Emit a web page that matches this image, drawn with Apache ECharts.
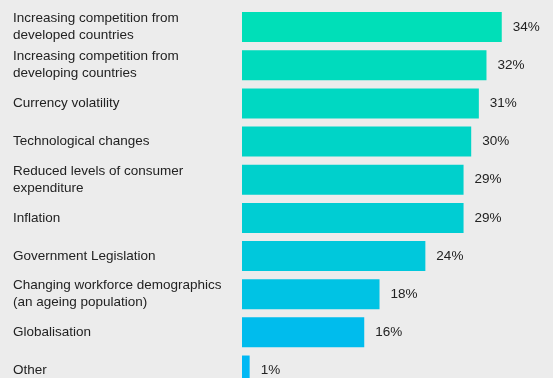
<!DOCTYPE html>
<html>
<head>
<meta charset="utf-8">
<script src="https://cdn.jsdelivr.net/npm/echarts@6/dist/echarts.min.js"></script>
<style>
  html, body { margin: 0; padding: 0; background: #ececec; }
  #chart { width: 553px; height: 378px; }
</style>
</head>
<body>
<div id="chart"></div>
<script>
// Business challenges, share of respondents (%)
const categories = [
  'Increasing competition from\ndeveloped countries',
  'Increasing competition from\ndeveloping countries',
  'Currency volatility',
  'Technological changes',
  'Reduced levels of consumer\nexpenditure',
  'Inflation',
  'Government Legislation',
  'Changing workforce demographics\n(an ageing population)',
  'Globalisation',
  'Other'
];
const values = [34, 32, 31, 30, 29, 29, 24, 18, 16, 1];
// green-to-blue ramp, top bar first
const barColors = [
  '#00dfb8', '#00dbbd', '#00d8c2', '#00d4c7', '#00d0cc',
  '#00cdd3', '#00c8dc', '#00c3e4', '#00bced', '#00b8f4'
];

const chart = echarts.init(document.getElementById('chart'), null, { renderer: 'canvas' });

chart.setOption({
  backgroundColor: '#ececec',
  animation: false,
  // plot area runs past the bottom edge so the last bar is cut off
  grid: {
    left: 242, top: 8, width: 305.6, height: 381.6,
    containLabel: false,
    outerBoundsMode: 'none'
  },
  xAxis: {
    type: 'value',
    min: 0,
    max: 40,
    show: false
  },
  yAxis: {
    type: 'category',
    inverse: true,
    data: categories,
    axisLine: { show: false },
    axisTick: { show: false },
    splitLine: { show: false },
    axisLabel: {
      align: 'left',
      margin: 229,
      color: '#222222',
      fontFamily: 'Liberation Sans, Arial, sans-serif',
      fontSize: 13.5,
      lineHeight: 17
    }
  },
  series: [{
    type: 'bar',
    barWidth: 30,
    data: values.map((v, i) => ({ value: v, itemStyle: { color: barColors[i] } })),
    label: {
      show: true,
      position: 'right',
      distance: 11,
      formatter: '{c}%',
      color: '#222222',
      fontFamily: 'Liberation Sans, Arial, sans-serif',
      fontSize: 13.5
    }
  }]
});
</script>
</body>
</html>
